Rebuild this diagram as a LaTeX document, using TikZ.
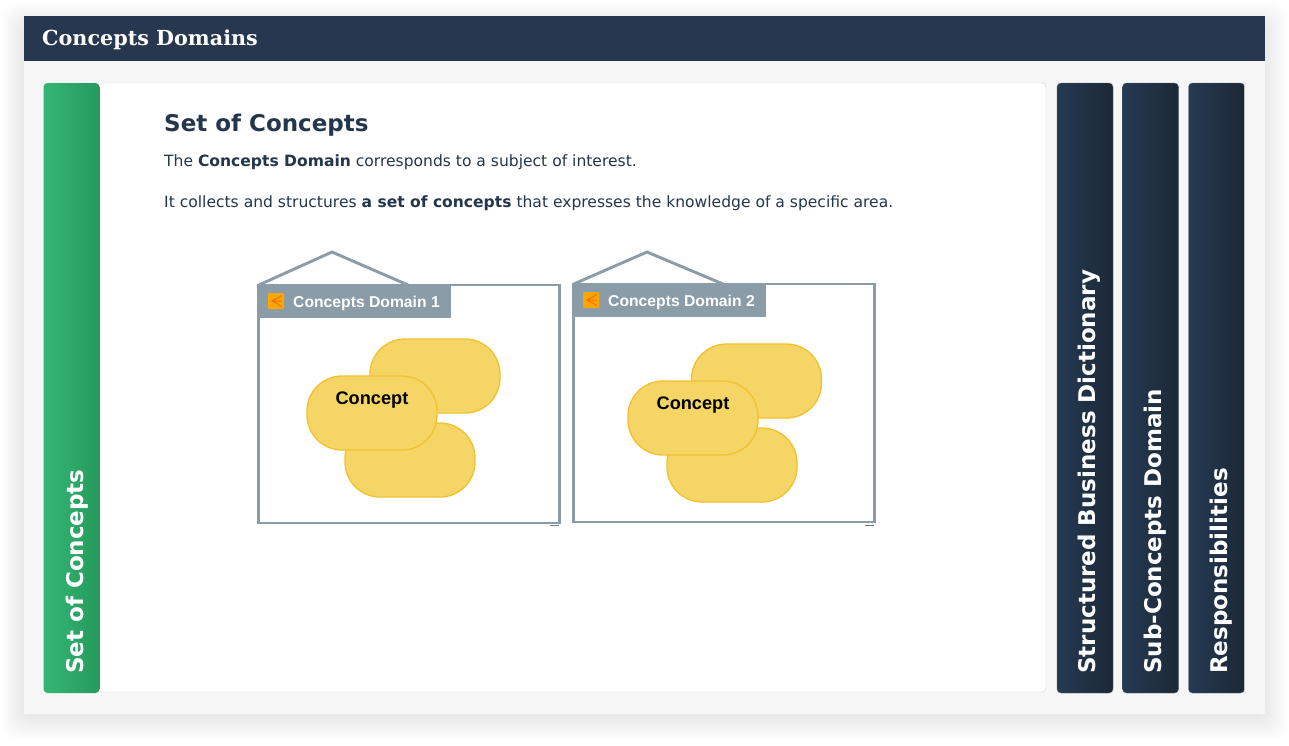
\documentclass[tikz,border=0pt]{standalone}
\usepackage{fontspec}
\setmainfont{DejaVu Sans}
\newfontfamily\titlefont{DejaVu Serif}
\newfontfamily\labelfont{Liberation Sans}
\usetikzlibrary{calc}
\definecolor{navy}{HTML}{26374F}
\definecolor{navyL}{HTML}{263A54}
\definecolor{navyR}{HTML}{1B2836}
\definecolor{greenL}{HTML}{35B675}
\definecolor{greenR}{HTML}{259A5C}
\definecolor{cardbg}{HTML}{F6F6F6}
\definecolor{slate}{HTML}{8A9CA8}
\definecolor{pillfill}{HTML}{F4D566}
\definecolor{pilledge}{HTML}{F2C12E}
\definecolor{inktext}{HTML}{24364C}
\definecolor{iconfill}{HTML}{FFA500}
\definecolor{iconline}{HTML}{F0700C}
\tikzset{
  pill/.style={draw=pilledge,fill=pillfill,line width=1.3pt,rounded corners=35pt,minimum width=130pt,minimum height=74pt,inner sep=0pt},
  tab/.style={rounded corners=4pt,minimum width=56pt,minimum height=610pt,inner sep=0pt},
  navytab/.style={tab,draw=navyR!70,left color=navyL,right color=navyR},
  vlabel/.style={rotate=90,anchor=west,text=white,font=\bfseries\fontsize{23}{23}\selectfont,inner sep=0pt},
  frameline/.style={draw=slate,line width=2.9pt,line join=miter},
  domainbar/.style={fill=slate,minimum width=194pt,minimum height=33pt,inner sep=0pt},
  domainlabel/.style={text=white,font=\labelfont\bfseries\fontsize{15.7}{15.7}\selectfont,anchor=west,inner sep=0pt},
  bodytext/.style={anchor=base west,inner sep=0pt,text=inktext,font=\fontsize{15.55}{15.55}\selectfont},
  concept/.style={text=black,font=\labelfont\bfseries\fontsize{18.2}{18.2}\selectfont,inner sep=0pt},
  tick/.style={draw=slate!80!black,line width=1pt},
  icon/.style={fill=iconfill,rounded corners=1pt,minimum size=16pt,inner sep=0pt},
  iconstroke/.style={draw=iconline,line width=1pt}
}
\begin{document}
\begin{tikzpicture}[x=1pt,y=-1pt]
\useasboundingbox (0,0) rectangle (1289,745);
\fill[white] (0,0) rectangle (1289,745);
% soft card shadow
\foreach \g in {22,20,...,2}{
  \fill[black,opacity=0.009,rounded corners=14pt] (24-\g,16-\g+9) rectangle (1265+\g,714+\g+3);
}
\fill[cardbg] (24,16) rectangle (1265,714);
% header
\node[fill=navy,minimum width=1241pt,minimum height=45pt,inner sep=0pt] (header) at (644.5,38.5) {};
\node[anchor=base west,inner sep=0pt,text=white,font=\titlefont\bfseries\fontsize{20.7}{20.7}\selectfont] (headertitle) at (42,45.5) {Concepts Domains};
% main panel
\node[draw=black!14,fill=white,rounded corners=4pt,minimum width=1002pt,minimum height=609pt,inner sep=0pt] (panel) at (545,387.5) {};
\node[tab,left color=greenL,right color=greenR] (greentab) at (71.5,388) {};
\node[vlabel] (greenlabel) at (77,674) {Set of Concepts};
% right tabs
\node[navytab] (tabA) at (1085,388) {};
\node[navytab] (tabB) at (1150.5,388) {};
\node[navytab] (tabC) at (1216.5,388) {};
\node[vlabel] (labelA) at (1089,674) {Structured Business Dictionary};
\node[vlabel] (labelB) at (1155,674) {Sub-Concepts Domain};
\node[vlabel] (labelC) at (1221,674) {Responsibilities};
% text
\node[anchor=base west,inner sep=0pt,text=inktext,font=\bfseries\fontsize{23}{23}\selectfont] (heading) at (164,131.5) {Set of Concepts};
\node[bodytext] (lineA) at (164,166) {The \textbf{Concepts Domain} corresponds to a subject of interest.};
\node[bodytext] (lineB) at (164,207) {It collects and structures \textbf{a set of concepts} that expresses the knowledge of a specific area.};
% domain 1
\draw[frameline] (258.8,285) -- (332,252) -- (408,285);
\draw[frameline] (258.8,285) rectangle (559.5,523);
\node[domainbar] (barA) at (354,301.5) {};
\node[icon] (iconA) at (276,301) {};
\draw[iconstroke] (282,295.5) -- (272,301) -- (282,306.5) (272,301) -- (282,301);
\node[domainlabel] (nameA) at (293,303) {Concepts Domain 1};
\draw[tick] (550,525.5) -- (559,525.5);
\node[pill] (a1) at (435,376) {};
\node[pill] (a2) at (410,460) {};
\node[pill] (a3) at (372,413) {};
\node[concept] (a3t) at (372,400) {Concept};
% domain 2
\draw[frameline] (573.8,284) -- (647,252) -- (723,284);
\draw[frameline] (573.8,284) rectangle (874.5,522);
\node[domainbar] (barB) at (669,300.5) {};
\node[icon] (iconB) at (591,300) {};
\draw[iconstroke] (597,294.5) -- (587,300) -- (597,305.5) (587,300) -- (597,300);
\node[domainlabel] (nameB) at (608,302.5) {Concepts Domain 2};
\draw[tick] (865,525.5) -- (874,525.5);
\node[pill] (b1) at (756.5,381) {};
\node[pill] (b2) at (732,465) {};
\node[pill] (b3) at (693,418) {};
\node[concept] (b3t) at (693,405) {Concept};
\end{tikzpicture}
\end{document}
